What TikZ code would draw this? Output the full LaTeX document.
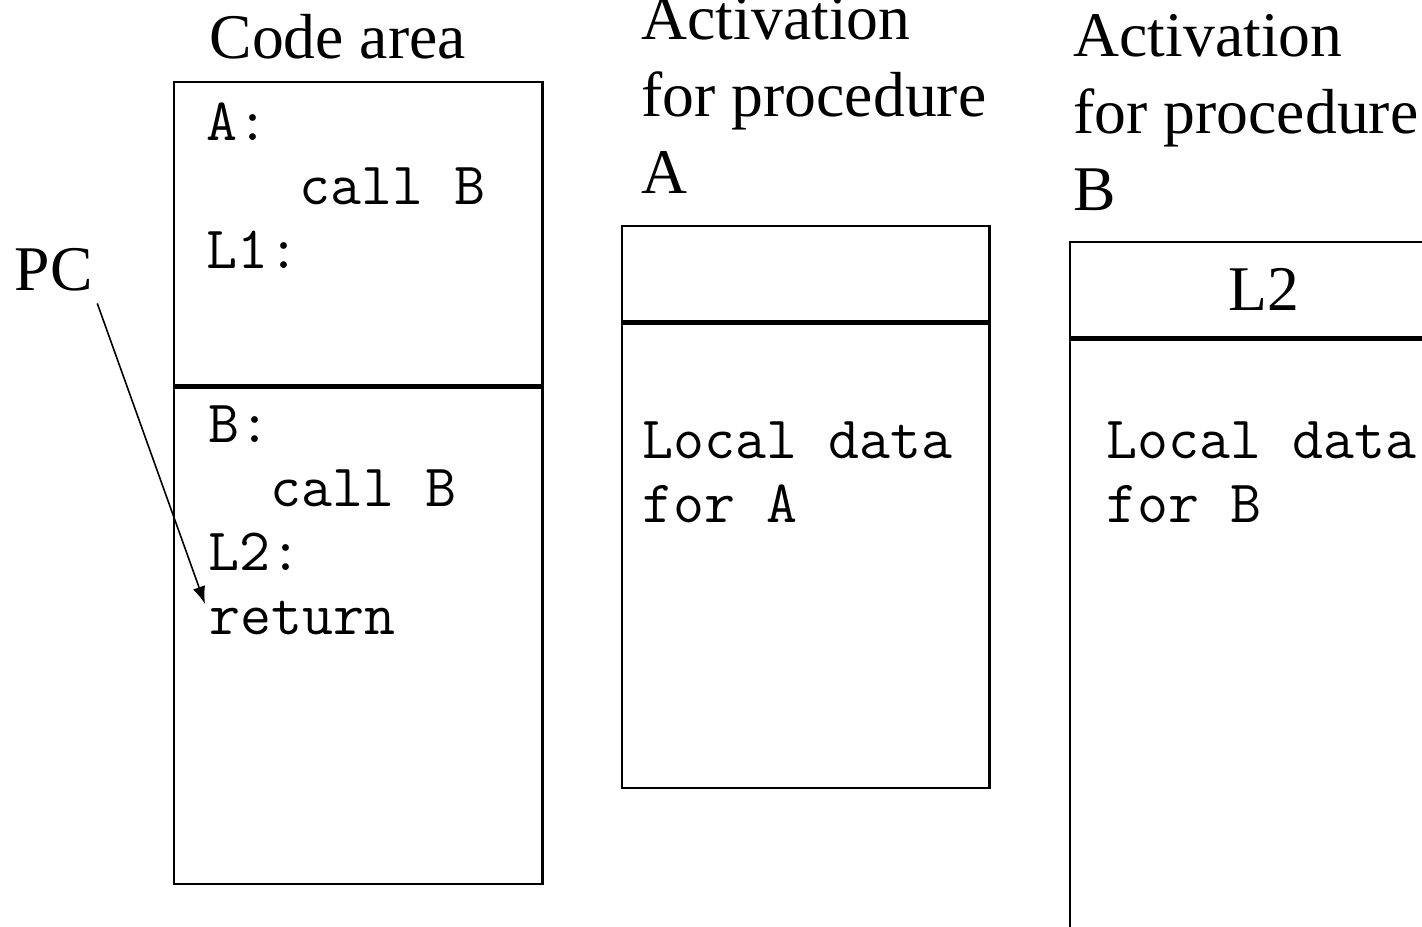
\documentclass[tikz,border=0pt]{standalone}
\usepackage{fontspec}
\setmainfont{Liberation Serif}
\usetikzlibrary{arrows.meta,positioning}

\begin{document}
\begin{tikzpicture}[x=0.01cm, y=-0.01cm,
    title/.style={font=\fontsize{18.1}{21.8}\selectfont, align=left, inner sep=0pt},
    code/.style={font=\ttfamily\fontsize{17.1}{18.1}\selectfont, align=left, inner sep=0pt},
    frame/.style={rectangle, draw, line width=0.65pt, anchor=north west, inner sep=0pt, minimum width=3.68cm}]

\clip (0,0) rectangle (1422,926);

% code area
\node[frame, minimum height=3.03cm] (codetop) at (173,81) {};
\node[frame, minimum height=4.96cm, below=0pt of codetop] (codebot) {};
\node[title, anchor=base west] (codelbl) at (209,58) {Code area};
\node[code, anchor=base west] (acode) at (206,268) {A:\\\phantom{xxx}call B\\L1:};
\node[code, anchor=base west] (bcode) at (208,570) {B:\\\phantom{xx}call B\\L2:};
\node[code, anchor=base west] (ret) at (209,634) {return};

% activation records
\node[frame, minimum width=3.67cm, minimum height=0.95cm] (atop) at (621,225) {};
\node[frame, minimum width=3.67cm, minimum height=4.64cm, below=0pt of atop] (abot) {};
\node[title, anchor=base west] (alabel) at (641,193) {Activation\\for procedure\\A};
\node[code, anchor=base west] (adata) at (642,522) {Local data\\for A};

\node[frame, font=\fontsize{18.1}{21.8}\selectfont, minimum width=3.88cm, minimum height=0.95cm] (btop) at (1069,241) {L2};
\node[frame, minimum width=3.88cm, minimum height=7cm, below=0pt of btop] (bbot) {};
\node[title, anchor=base west] (blabel) at (1073,210) {Activation\\for procedure\\B};
\node[code, anchor=base west] (bdata) at (1106,522) {Local data\\for B};

% program counter
\node[title, anchor=base west] (pc) at (14,290) {PC};
\draw[-{Latex[length=5pt,width=3.6pt]}, line width=0.45pt] ([xshift=0.04cm, yshift=-0.12cm]pc.south east) -- ([xshift=-0.04cm, yshift=-0.04cm]ret.north west);
\end{tikzpicture}
\end{document}
